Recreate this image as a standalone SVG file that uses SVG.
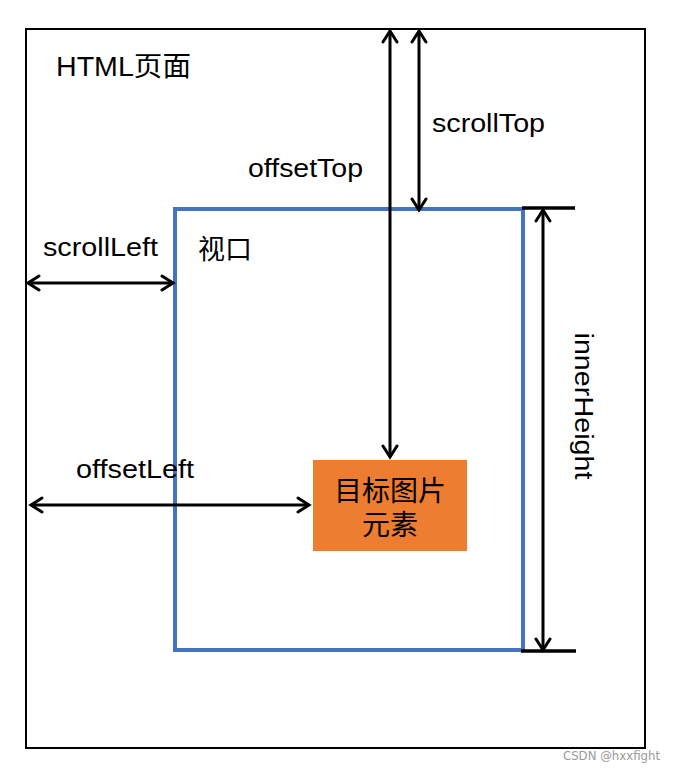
<svg xmlns="http://www.w3.org/2000/svg" width="676" height="773" viewBox="0 0 676 773">
  <style>
    .lbl { font-family: "Liberation Sans", "Noto Sans CJK SC", Arial, sans-serif; font-size: 26px; fill: #000; }
    .cjk { font-family: "Liberation Sans", "Noto Sans CJK SC", sans-serif; fill: #000; }
    .arr { stroke: #000; stroke-width: 3; fill: none; }
    .tick { stroke: #000; stroke-width: 3.5; }
  </style>
  <defs>
    <marker id="ah" viewBox="-13 -9 16 18" markerWidth="16" markerHeight="18" refX="0" refY="0" orient="auto-start-reverse" markerUnits="userSpaceOnUse">
      <path d="M-11,-7 L0,0 L-11,7" fill="none" stroke="#000" stroke-width="3" stroke-linecap="round" stroke-linejoin="miter"/>
    </marker>
  </defs>
  <rect width="676" height="773" fill="#fff"/>

  <g id="page">
    <rect x="26" y="29" width="619" height="719" fill="none" stroke="#000" stroke-width="2"/>
    <text class="cjk" x="56" y="76" font-size="27" textLength="135" lengthAdjust="spacingAndGlyphs">HTML页面</text>
  </g>

  <g id="viewport">
    <rect x="175" y="209" width="348" height="441" fill="none" stroke="#4472C4" stroke-width="4"/>
    <text class="cjk" x="198" y="259" font-size="27">视口</text>
  </g>

  <g id="target">
    <rect x="313" y="460" width="154" height="91" fill="#ED7D31"/>
    <text class="cjk" x="390" y="501" font-size="28" text-anchor="middle">目标图片</text>
    <text class="cjk" x="390" y="535" font-size="28" text-anchor="middle">元素</text>
  </g>

  <g id="connectors">
    <line class="arr" x1="390" y1="31" x2="390" y2="457" marker-start="url(#ah)" marker-end="url(#ah)"/>
    <line class="arr" x1="419" y1="31" x2="419" y2="210" marker-start="url(#ah)" marker-end="url(#ah)"/>
    <line class="arr" x1="543" y1="210" x2="543" y2="650" marker-start="url(#ah)" marker-end="url(#ah)"/>
    <line class="arr" x1="28" y1="283" x2="173" y2="283" marker-start="url(#ah)" marker-end="url(#ah)"/>
    <line class="arr" x1="31" y1="505" x2="309" y2="505" marker-start="url(#ah)" marker-end="url(#ah)"/>
    <line class="tick" x1="522" y1="208" x2="575" y2="208"/>
    <line class="tick" x1="521" y1="651" x2="576" y2="651"/>
  </g>

  <g id="labels">
    <text class="lbl" x="432" y="132" textLength="113" lengthAdjust="spacingAndGlyphs">scrollTop</text>
    <text class="lbl" x="248" y="177" textLength="115" lengthAdjust="spacingAndGlyphs">offsetTop</text>
    <text class="lbl" x="43" y="256" textLength="115" lengthAdjust="spacingAndGlyphs">scrollLeft</text>
    <text class="lbl" x="76" y="478" textLength="118" lengthAdjust="spacingAndGlyphs">offsetLeft</text>
    <text class="lbl" transform="translate(575,406) rotate(90)" x="0" y="0" text-anchor="middle" textLength="147" lengthAdjust="spacingAndGlyphs">innerHeight</text>
  </g>

  <text x="563" y="760" font-family="'DejaVu Sans', 'Liberation Sans', sans-serif" font-size="12" fill="#9a9a9a" textLength="97" lengthAdjust="spacingAndGlyphs">CSDN @hxxfight</text>
</svg>
